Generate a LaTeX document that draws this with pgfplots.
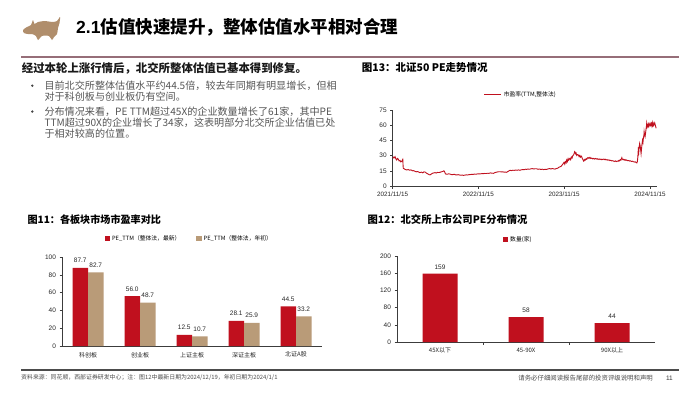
\documentclass[border=0pt]{standalone}
\usepackage{fontspec}
\setmainfont{Noto Sans CJK SC}
\newfontfamily\arial{Liberation Sans}
\usepackage{pgfplots}
\pgfplotsset{compat=1.18}
\pgfkeys{/pgf/number format/assume math mode=true}
\definecolor{pred}{RGB}{192,16,30}
\definecolor{ptan}{RGB}{185,155,120}
\definecolor{hline}{RGB}{150,110,120}
\definecolor{bull}{RGB}{176,142,108}
\definecolor{btxt}{RGB}{85,85,85}
\definecolor{axc}{RGB}{60,60,60}
\pgfplotsset{
  sqlegend/.style={legend image code/.code={\fill[##1] (0pt,-2.6pt) rectangle (5.2pt,2.6pt);}},
  slide/.style={
    scale only axis,
    axis x line*=bottom, axis y line*=left,
    axis line style={-, axc, line width=0.6pt},
    tick align=outside, major tick length=2.5pt,
    tick style={axc, line width=0.5pt},
    yticklabel style={font=\arial\fontsize{6.5}{7}\selectfont, text=black!85},
    xticklabel style={font=\fontsize{6}{7}\selectfont, text=black!85},
    legend style={draw=none, fill=none, font=\fontsize{5.8}{6.5}\selectfont, inner sep=1pt},
    legend cell align=left,
  }
}
\begin{document}
\begin{tikzpicture}
\path[use as bounding box, fill=white] (0pt,0pt) rectangle (700pt,-394pt);
% bull icon
\fill[bull] plot[smooth cycle, tension=0.5] coordinates {(23pt,-30pt) (27pt,-27pt) (31pt,-25pt) (33pt,-20pt) (34.5pt,-24pt) (38pt,-22pt) (45pt,-21pt) (52pt,-22pt) (57pt,-21pt) (60pt,-17pt) (59.5pt,-23pt) (58pt,-28pt) (57pt,-34pt) (54pt,-37pt) (52pt,-40pt) (49pt,-36pt) (42pt,-36pt) (38pt,-40pt) (36pt,-36pt) (32pt,-34pt) (28pt,-34pt) (24pt,-33pt)};
% title
\node[anchor=west, inner sep=0pt] at (76pt,-27pt) {\fontsize{17.5}{19}\selectfont\bfseries{\arial 2.1}估值快速提升，整体估值水平相对合理};
\draw[hline, line width=1.6pt] (21pt,-57pt) -- (679pt,-57pt);
% left text
\node[anchor=west, inner sep=0pt, text=black!90] at (21.7pt,-68.5pt) {\fontsize{11.4}{13}\selectfont\bfseries 经过本轮上涨行情后，北交所整体估值已基本得到修复。};
\fill[btxt!80!black] (32.3pt,-85.7pt) circle (1.3pt);
\fill[btxt!80!black] (32.3pt,-111.5pt) circle (1.3pt);
\begin{scope}[every node/.style={anchor=west, inner sep=0pt, text=btxt, font=\fontsize{10.1}{11}\selectfont}]
\node at (44.3pt,-85.7pt) {目前北交所整体估值水平约44.5倍，较去年同期有明显增长，但相};
\node at (44.3pt,-96.9pt) {对于科创板与创业板仍有空间。};
\node at (44.3pt,-111.5pt) {分布情况来看，PE TTM超过45X的企业数量增长了61家，其中PE};
\node at (44.3pt,-122.5pt) {TTM超过90X的企业增长了34家，这表明部分北交所企业估值已处};
\node at (44.3pt,-133.5pt) {于相对较高的位置。};
\end{scope}
% chart titles
\node[anchor=west, inner sep=0pt] at (361.7pt,-67.3pt) {\fontsize{10.5}{12}\selectfont\bfseries 图13：北证50 PE走势情况};
\node[anchor=west, inner sep=0pt] at (27.3pt,-220pt) {\fontsize{10.1}{12}\selectfont\bfseries 图11：各板块市场市盈率对比};
\node[anchor=west, inner sep=0pt] at (367.3pt,-220pt) {\fontsize{10.3}{12}\selectfont\bfseries 图12：北交所上市公司PE分布情况};
% footer
\draw[black!70, line width=1.3pt] (21pt,-370pt) -- (679pt,-370pt);
\node[anchor=west, inner sep=0pt, text=black!70] at (21pt,-378pt) {\fontsize{5.9}{7}\selectfont 资料来源：同花顺，西部证券研发中心；注：图12中最新日期为2024/12/19，年初日期为2024/1/1};
\node[anchor=east, inner sep=0pt, text=black!70] at (653pt,-378pt) {\fontsize{6.4}{7}\selectfont 请务必仔细阅读报告尾部的投资评级说明和声明};
\node[anchor=east, inner sep=0pt, text=black!80] at (673pt,-378pt) {\arial\fontsize{6.5}{7}\selectfont 11};

% ---------- chart 13 ----------
\begin{axis}[slide,
  at={(392.7pt,-186pt)}, anchor=south west,
  width=264.1pt, height=76pt,
  xmin=0, xmax=1125, ymin=0, ymax=75,
  ytick={0,15,30,45,60,75},
  xtick={0,365,730,1096},
  xticklabels={2021/11/15,2022/11/15,2023/11/15,2024/11/15},
  xticklabel style={font=\arial\fontsize{6.3}{7}\selectfont},
  legend style={at={(0.485,1.2)}, anchor=center},
]
\addplot[pred, line width=0.9pt] table {
0 27.3
3 28.5
6 27.8
10 29.0
13 27.0
17 25.7
20 27.2
24 26.5
27 24.8
31 25.2
34 23.8
38 24.2
41 25.5
43 26.3
44 21
45 17.5
50 16.8
55 16.2
60 15.8
66 16.3
72 15.6
78 15.9
84 15.0
88 15.2
94 14.6
100 14.0
106 14.3
112 13.6
116 13.2
122 13.7
128 13.0
133 13.9
138 13.8
143 12.8
148 12.2
153 11.4
159 10.9
164 11.8
170 12.6
175 12.9
180 13.2
186 12.8
191 13.4
196 13.3
201 13.5
206 13.9
211 14.2
215 14.6
218 15.0
221 14.1
224 12.4
226 11.8
232 11.6
238 12.0
244 11.8
250 11.3
256 11.2
262 11.6
268 11.0
273 10.9
279 11.2
285 10.8
291 10.6
296 10.8
301 10.5
307 10.7
313 11.0
318 10.8
324 11.2
329 11.2
335 11.5
341 11.4
347 11.7
352 11.6
358 11.8
364 12.0
370 11.9
376 12.1
382 12.3
386 12.2
392 12.4
398 12.3
404 12.6
410 12.5
416 12.9
422 12.7
429 12.5
435 13.2
441 13.6
447 13.9
452 14.1
457 14.1
463 13.9
469 14.0
475 13.6
480 13.8
485 13.5
490 14.2
495 14.9
500 15.5
506 15.2
512 15.6
518 15.4
524 15.8
530 15.5
536 15.9
542 15.5
548 16.0
554 16.2
560 16.1
566 16.6
570 16.4
576 16.8
582 16.5
588 16.9
594 17.2
600 16.8
606 17.0
613 17.0
619 16.5
625 16.8
631 16.3
637 16.6
643 16.2
649 16.5
656 16.4
662 16.9
668 17.2
674 16.8
680 17.3
686 16.9
691 16.7
697 17.2
703 17.6
708 18.5
713 19.0
718 19.6
722 20.8
726 22.0
730 23.4
733 21.5
736 24.0
739 23.0
741 25.6
744 24.2
747 27.0
750 25.5
753 26.8
755 27.3
758 26.0
761 28.5
764 27.6
767 29.8
770 30.5
773 32.0
775 34.0
777 33.5
779 31.8
781 32.5
784 30.2
787 31.0
791 30.6
794 29.0
797 30.2
800 28.5
803 29.5
805 28.9
808 27.0
811 25.8
813 24.5
815 24.7
818 26.2
821 25.6
824 27.0
827 26.4
830 27.8
833 28.0
836 27.2
840 28.3
844 27.1
848 27.6
852 26.8
855 27.3
859 26.5
863 27.2
867 26.6
871 27.0
875 26.2
879 26.8
883 26.1
887 26.6
891 25.9
895 26.4
897 26.6
901 26.0
905 26.5
909 25.7
913 26.1
917 25.4
921 25.8
925 25.1
929 25.4
933 24.8
937 25.0
940 24.7
944 24.2
948 24.8
952 24.1
956 24.6
960 24.3
963 25.2
966 24.8
969 26.0
972 25.5
974 27.0
976 28.0
978 26.5
981 25.8
984 26.4
987 25.6
990 26.1
993 25.3
997 25.7
1001 24.9
1005 25.2
1009 24.6
1013 24.9
1017 24.2
1021 24.5
1025 24.0
1029 23.6
1033 23.9
1037 23.2
1040 22.8
1042 24.0
1044 28.0
1046 35.5
1048 33.0
1050 38.5
1052 42.0
1054 40.0
1056 36.0
1058 32.0
1060 37.0
1062 41.5
1064 45.0
1066 43.0
1068 47.5
1070 50.0
1071 53.6
1073 50.5
1075 48.7
1077 52.0
1079 56.0
1081 59.5
1082 61.9
1084 58.5
1086 60.2
1088 58.8
1090 61.0
1092 59.2
1094 60.8
1096 62.0
1098 59.5
1100 60.0
1102 61.5
1104 59.3
1106 62.5
1108 60.1
1110 61.8
1112 59.8
1114 61.0
1116 62.3
1118 60.5
1120 59.0
1122 57.0
};
\addlegendentry{市盈率(TTM,整体法)}
\end{axis}

% ---------- chart 11 ----------
\begin{axis}[slide,
  at={(62pt,-346pt)}, anchor=south west,
  width=260pt, height=89pt,
  ybar=0pt, bar width=15.5pt,
  xmin=-0.5, xmax=4.5, ymin=0, ymax=100,
  ytick={0,20,40,60,80,100},
  xtick={0,1,2,3,4},
  xticklabels={科创板,创业板,上证主板,深证主板,北证A股},
  major x tick style={draw=none},
  legend columns=2,
  legend style={at={(0.49,1.21)}, anchor=center, /tikz/every even column/.append style={column sep=14pt}},
  nodes near coords={\pgfmathprintnumber[fixed,fixed zerofill,precision=1]{\pgfplotspointmeta}},
  nodes near coords style={font=\arial\fontsize{6.5}{7}\selectfont, text=black!85, yshift=1.5pt},
]
\addplot[fill=pred, draw=none, sqlegend] coordinates {(0,87.7) (1,56.0) (2,12.5) (3,28.1) (4,44.5)};
\addlegendentry{PE\_TTM（整体法，最新）}
\addplot[fill=ptan, draw=none, sqlegend] coordinates {(0,82.7) (1,48.7) (2,10.7) (3,25.9) (4,33.2)};
\addlegendentry{PE\_TTM（整体法，年初）}
\end{axis}

% ---------- chart 12 ----------
\begin{axis}[slide,
  at={(397pt,-342pt)}, anchor=south west,
  width=258pt, height=86pt,
  ybar=0pt, bar width=35pt,
  xmin=-0.5, xmax=2.5, ymin=0, ymax=200,
  ytick={0,40,80,120,160,200},
  xtick={0,1,2},
  xticklabels={45X以下,45-90X,90X以上},
  major x tick style={draw=none},
  minor xtick={0.5,1.5},
  minor tick length=2.5pt,
  minor x tick style={axc, line width=0.5pt},
  legend style={at={(0.47,1.19)}, anchor=center},
  nodes near coords,
  nodes near coords style={font=\arial\fontsize{6.5}{7}\selectfont, text=black!85, yshift=1pt},
]
\addplot[fill=pred, draw=none, sqlegend] coordinates {(0,159) (1,58) (2,44)};
\addlegendentry{数量(家)}
\end{axis}
\end{tikzpicture}
\end{document}
